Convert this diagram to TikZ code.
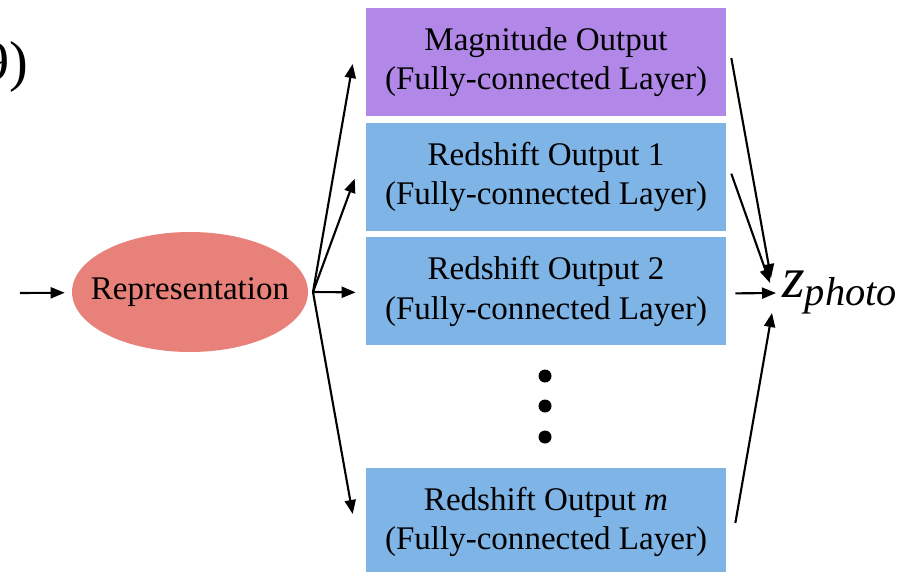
\documentclass[tikz,border=0pt]{standalone}
\usepackage{fontspec}
\setmainfont{Liberation Serif}
\usetikzlibrary{arrows.meta,positioning,calc,shapes.geometric}
\definecolor{lavender}{HTML}{B187E8}
\definecolor{skyblue}{HTML}{7EB4E6}
\definecolor{salmonred}{HTML}{E8817A}
\tikzset{
  headbox/.style={
    rectangle,
    draw=none,
    minimum width=7.2cm,
    minimum height=2.16cm,
    inner sep=0pt,
    align=center,
    font=\fontsize{18.8}{22.4}\selectfont
  },
  repnode/.style={
    ellipse,
    fill=salmonred,
    minimum width=4.72cm,
    minimum height=2.4cm,
    inner sep=0pt
  },
  flowarrow/.style={-{Triangle[length=0.28cm,width=0.22cm]},line width=1.2pt,draw=black}
}

\begin{document}
\begin{tikzpicture}[x=0.02cm,y=-0.02cm,node distance=0.12cm]
\useasboundingbox (0,0) rectangle (908,571);
% cut-off label at the top left
\node[anchor=base east,inner sep=0pt,font=\fontsize{32}{36}\selectfont] (tag) at (29,81) {9)};
% representation and output heads
\node[repnode,label={[font=\fontsize{18.8}{22}\selectfont]center:Representation}] (rep) at (190,292) {};
\node[headbox,fill=lavender] (mag) at (546,62) {Magnitude Output\\(Fully-connected Layer)};
\node[headbox,fill=skyblue,below=of mag] (rsa) {Redshift Output 1\\(Fully-connected Layer)};
\node[headbox,fill=skyblue,below=of rsa] (rsb) {Redshift Output 2\\(Fully-connected Layer)};
\node[headbox,fill=skyblue] (rsm) at (546,522) {Redshift Output \textit{m}\\(Fully-connected Layer)};
\foreach \y in {376,406,437}
  \fill (545,\y) circle[radius=0.13cm];
\node[anchor=base west,inner sep=0pt] (zp) at (782,297)
  {{\fontsize{33}{38}\selectfont\itshape z}\raisebox{-0.16cm}{\fontsize{23}{26}\selectfont\itshape photo}};
\coordinate (in) at (20,293);
\coordinate (fan) at (313,292);
\coordinate (zin) at (776,293);
% arrows
\draw[flowarrow,shorten >=0.14cm] (in) -- (rep);
\draw[flowarrow] (fan) -- ($(mag.west)+(-13,2)$);
\draw[flowarrow] (fan) -- ($(rsa.west)+(-11,2)$);
\draw[flowarrow] (fan) -- ($(rsb.west)+(-10,1)$);
\draw[flowarrow] (fan) -- ($(rsm.west)+(-13,-8)$);
\draw[flowarrow] ($(mag.east)+(5,-4)$) -- ($(zin)+(-5,-15)$);
\draw[flowarrow] ($(rsa.east)+(5,-3)$) -- ($(zin)+(-6,-10)$);
\draw[flowarrow] ($(rsb.east)+(9,2)$) -- (zin);
\draw[flowarrow] ($(rsm.east)+(9,1)$) -- ($(zin)+(-4,20)$);
\end{tikzpicture}
\end{document}
